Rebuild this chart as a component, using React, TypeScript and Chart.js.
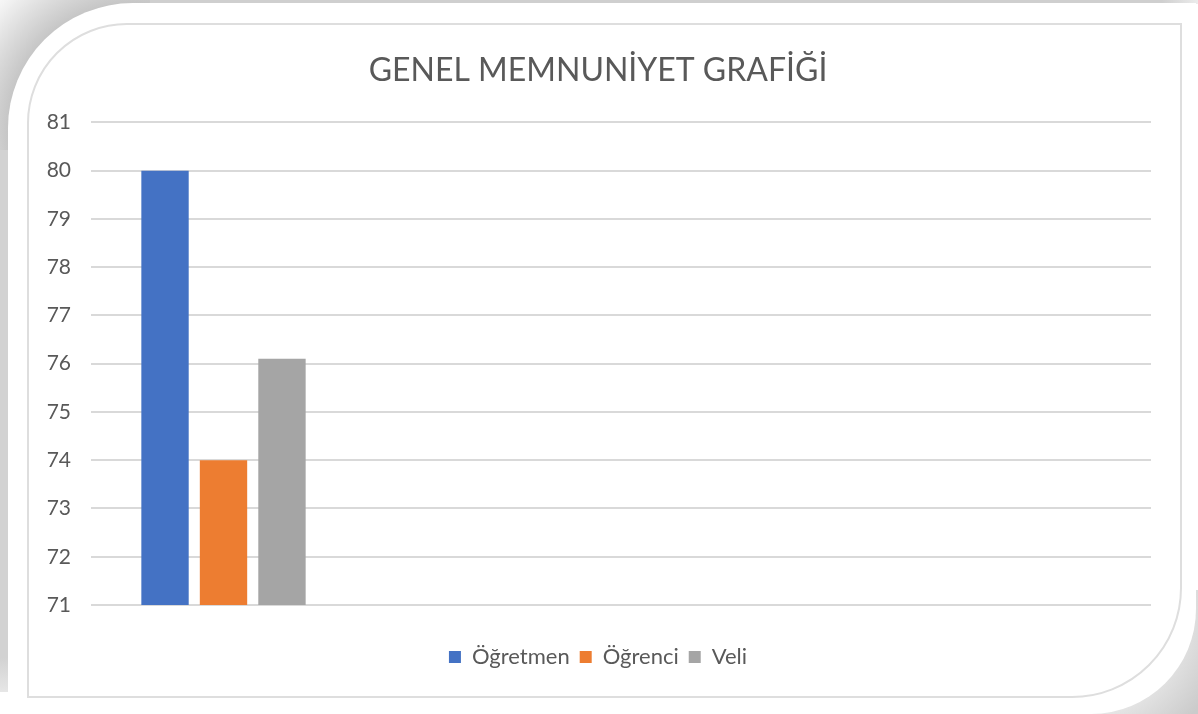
import React, { useEffect, useRef } from "react";
import { Chart, registerables } from "chart.js";

Chart.register(...registerables);

const categories = ["", "", "", ""];
const seriesNames = ["Öğretmen", "Öğrenci", "Veli"];
const ogretmen = [80, null, null, null];
const ogrenci = [74, null, null, null];
const veli = [76.1, null, null, null];
const seriesColors = ["#4472C4", "#ED7D31", "#A5A5A5"];
const chartTitle = "GENEL MEMNUNİYET GRAFİĞİ";
const yMin = 71;
const yMax = 81;

export default function App() {
  const canvasRef = useRef<HTMLCanvasElement | null>(null);

  useEffect(() => {
    if (!canvasRef.current) return;
    const values = [ogretmen, ogrenci, veli];
    const chart = new Chart(canvasRef.current, {
      type: "bar",
      data: {
        labels: categories,
        datasets: seriesNames.map((name, i) => ({
          label: name,
          data: values[i],
          backgroundColor: seriesColors[i],
          borderWidth: 0,
          categoryPercentage: 0.662,
          barPercentage: 0.81,
        })),
      },
      options: {
        responsive: false,
        animation: false,
        devicePixelRatio: 1,
        layout: { padding: { left: 16, right: 27, top: 26, bottom: 16 } },
        plugins: {
          title: {
            display: true,
            text: chartTitle,
            color: "#595959",
            font: { family: "Lato", size: 32, weight: "normal", lineHeight: 1.2 },
            padding: { top: 0, bottom: 33 },
          },
          legend: {
            display: true,
            position: "bottom",
            labels: {
              color: "#595959",
              font: { family: "Lato", size: 22 },
              boxWidth: 12,
              boxHeight: 12,
              padding: 10,
            },
          },
          tooltip: { enabled: false },
        },
        scales: {
          x: {
            ticks: { display: false },
            grid: { display: false },
            border: { display: false },
            afterFit: (axis: any) => {
              axis.height = 31;
            },
          },
          y: {
            min: yMin,
            max: yMax,
            ticks: {
              stepSize: 1,
              color: "#595959",
              font: { family: "Lato", size: 21 },
              padding: 20,
            },
            grid: { color: "#d9d9d9", lineWidth: 2, drawTicks: false },
            border: { display: false },
            afterFit: (axis: any) => {
              axis.width = 46;
            },
          },
        },
      },
    });
    return () => chart.destroy();
  }, []);

  return (
    <div
      style={{
        position: "fixed",
        left: 0,
        top: 0,
        width: 1198,
        height: 714,
        background: "#ffffff",
        overflow: "hidden",
      }}
    >
      <div style={{ position: "absolute", left: 0, top: 0, width: 1198, height: 4, background: "linear-gradient(to right, #cfcfcf 0%, #cfcfcf 97%, #ececec 100%)" }} />
      <div style={{ position: "absolute", left: 0, top: 0, width: 8, height: 692, background: "linear-gradient(to bottom, #d2d2d2 0%, #d2d2d2 95%, #e6e6e6 100%)" }} />
      <div style={{ position: "absolute", left: 0, top: 0, width: 150, height: 150, background: "radial-gradient(circle at 133px 128px, #c6c6c6 0px, #c6c6c6 125px, #f4f4f4 180px, #ffffff 200px)" }} />
      <div style={{ position: "absolute", left: 1070, top: 590, width: 128, height: 124, background: "radial-gradient(circle at 1px 19px, #e8e8e8 0px, #e8e8e8 105px, #cbcbcb 160px)" }} />
      <div
        style={{
          position: "absolute",
          left: 8,
          top: 3,
          width: 1188,
          height: 711,
          background: "#ffffff",
          borderRadius: "125px 0 105px 0",
        }}
      />
      <div
        style={{
          position: "absolute",
          left: 27,
          top: 23,
          width: 1155,
          height: 675,
          boxSizing: "border-box",
          border: "2px solid #dedede",
          borderRadius: "100px 0 110px 0",
        }}
      />
      <canvas
        ref={canvasRef}
        width={1149}
        height={669}
        style={{ position: "absolute", left: 29, top: 25, width: 1149, height: 669 }}
      />
    </div>
  );
}
